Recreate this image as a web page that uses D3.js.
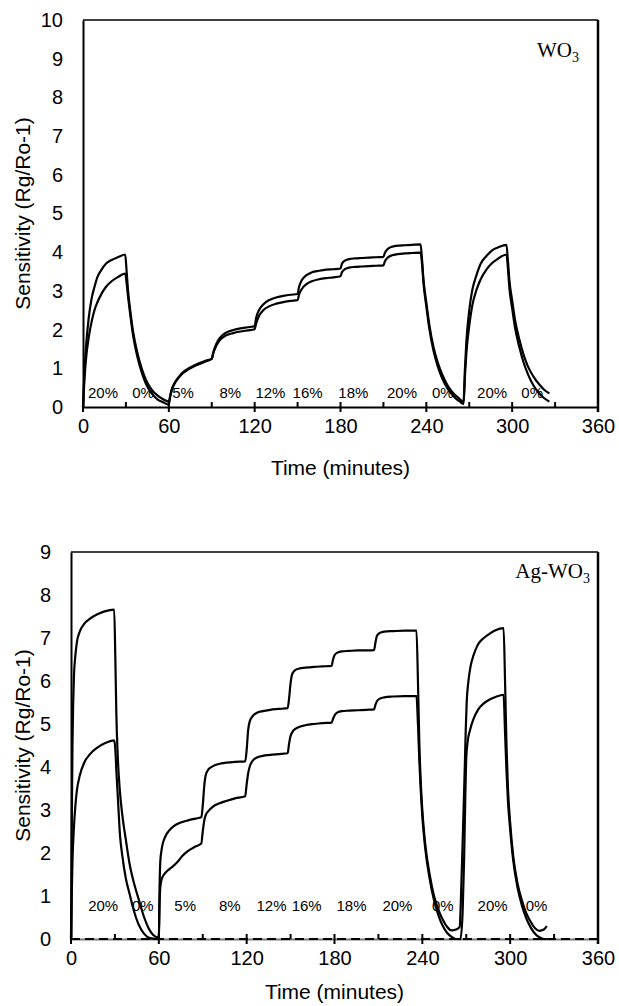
<!DOCTYPE html>
<html>
<head>
<meta charset="utf-8">
<script src="https://cdn.jsdelivr.net/npm/d3@7"></script>
<style>
  body { margin: 0; background: #fff; }
  svg { display: block; }
  text { font-family: Arial, "Liberation Sans", sans-serif; fill: #000; }
</style>
</head>
<body>
<svg id="chart" width="619" height="1006"></svg>
<script>
// ---------------- DATA ----------------
// Top panel: WO3
const wo3Time = [0,1,2,4,6,8,10,13,16,20,25,29.5,
  30.5,31.5,33,35,38,41,44,48,52,56,60,
  61,62,64,67,70,74,78,82,86,90,
  91,93,96,100,105,110,115,120,
  121,123,126,130,135,140,145,150,
  151,153,156,160,165,170,175,180,
  181,183,186,190,195,200,205,210,
  211,213,216,220,225,230,236,
  237,238,240,242,245,248,251,255,259,263,266,
  267,268,270,272,275,278,282,286,290,296,
  297,298,300,302,305,308,311,315,319,322,326];
const wo3Upper = [0,0.9,1.5,2.3,2.8,3.1,3.35,3.55,3.7,3.8,3.88,3.94,
  3.5,3.0,2.5,1.95,1.4,1.0,0.7,0.45,0.3,0.2,0.14,
  0.3,0.45,0.62,0.78,0.9,1.0,1.08,1.14,1.2,1.25,
  1.4,1.62,1.8,1.92,1.99,2.03,2.06,2.09,
  2.3,2.5,2.65,2.76,2.83,2.87,2.9,2.92,
  3.1,3.28,3.4,3.48,3.52,3.55,3.56,3.58,
  3.7,3.78,3.82,3.84,3.85,3.86,3.87,3.88,
  3.98,4.08,4.14,4.17,4.18,4.19,4.2,
  3.8,3.3,2.7,2.15,1.55,1.15,0.85,0.55,0.35,0.22,0.12,
  1.0,1.7,2.5,3.0,3.4,3.7,3.9,4.05,4.12,4.19,
  3.8,3.3,2.75,2.25,1.75,1.35,1.05,0.78,0.58,0.46,0.35];
const wo3Lower = [0,0.7,1.2,1.8,2.2,2.5,2.7,2.93,3.1,3.25,3.37,3.45,
  3.2,2.85,2.4,1.85,1.3,0.9,0.6,0.35,0.2,0.12,0.06,
  0.28,0.43,0.6,0.76,0.88,0.98,1.06,1.12,1.18,1.24,
  1.38,1.57,1.74,1.85,1.91,1.95,1.98,2.01,
  2.15,2.35,2.5,2.6,2.67,2.71,2.74,2.76,
  2.9,3.05,3.17,3.25,3.3,3.33,3.35,3.38,
  3.48,3.56,3.6,3.62,3.63,3.64,3.65,3.66,
  3.76,3.86,3.92,3.95,3.97,3.98,3.99,
  3.7,3.2,2.6,2.05,1.45,1.05,0.75,0.47,0.28,0.15,0.08,
  0.8,1.4,2.1,2.6,3.02,3.3,3.55,3.72,3.83,3.94,
  3.6,3.1,2.55,2.05,1.55,1.15,0.85,0.55,0.35,0.24,0.14];

// Bottom panel: Ag-WO3
const agUpperTime = [0,0.5,1,1.5,2,3,4,6,9,13,18,23,29.5,
  30.3,31,32,33.5,35,37.5,40,43,46,50,53,56,60,
  60.5,61,62,64,67,70,75,80,85,89,
  90,91,92,94,97,101,106,112,119,
  120,121,122,124,127,131,136,142,148,
  149,150,151,153,156,160,166,172,178,
  179,180,182,185,190,196,202,207,
  208,209,211,214,220,228,236,
  237,238,239,240,242,245,248,251,254,257,260,263,265.5,
  266.6,268,269,269.6,270.3,271.5,273,275,278,282,286,290,295.5,
  296.5,297.5,298.5,300,302,305,308,311,314,317,320,323,325];
const agUpperValue = [0,2.5,4.5,5.5,6.1,6.6,6.9,7.15,7.33,7.45,7.55,7.62,7.66,
  6.5,5.2,4.2,3.4,2.9,2.3,1.75,1.3,0.95,0.5,0.25,0.1,0.03,
  1.2,1.8,2.1,2.35,2.52,2.62,2.71,2.76,2.8,2.83,
  3.1,3.55,3.8,3.95,4.02,4.07,4.1,4.12,4.13,
  4.4,4.85,5.05,5.18,5.26,5.3,5.33,5.35,5.37,
  5.6,5.95,6.15,6.25,6.29,6.31,6.33,6.34,6.35,
  6.5,6.6,6.66,6.69,6.7,6.71,6.71,6.72,
  6.9,7.05,7.12,7.15,7.16,7.17,7.17,
  6.0,4.5,3.6,3.0,2.2,1.5,1.0,0.68,0.45,0.28,0.2,0.22,0.28,
  1.2,2.8,4.0,4.8,5.5,6.0,6.35,6.6,6.85,7.0,7.1,7.18,7.23,
  6.0,4.5,3.5,2.7,1.95,1.3,0.9,0.6,0.4,0.25,0.19,0.22,0.3];
const agLowerTime = [0,0.5,1,2,3,4,6,9,13,18,23,29.5,
  30.3,31,32,33.5,35,37.5,40,43,46,50,54,60,
  60.5,61,62,64,67,70,73,76,80,85,89,
  90,91,92,94,97,101,106,112,119,
  120,121,122,124,127,131,136,142,148,
  149,150,152,155,160,166,172,178,
  179,180,182,185,190,196,202,207,
  208,209,211,214,220,228,236,
  237,238,239,240,242,245,248,251,254,257,260,263,266,
  267.5,268.5,269.3,270,271,272.5,275,278,282,286,290,295.5,
  296.5,297.5,298.5,300,302,305,308,311,314,317,320,323,325];
const agLowerValue = [0,1.0,1.8,2.6,3.1,3.45,3.8,4.1,4.3,4.45,4.55,4.62,
  4.4,3.9,3.3,2.4,1.95,1.4,1.05,0.65,0.35,0.12,0.02,0.0,
  0.8,1.2,1.4,1.52,1.62,1.7,1.8,1.93,2.05,2.15,2.22,
  2.5,2.75,2.88,2.98,3.08,3.15,3.21,3.27,3.32,
  3.6,3.85,4.0,4.14,4.22,4.26,4.28,4.3,4.32,
  4.55,4.72,4.85,4.92,4.97,5.0,5.02,5.03,
  5.12,5.2,5.27,5.3,5.31,5.32,5.33,5.34,
  5.45,5.53,5.59,5.62,5.64,5.65,5.65,
  5.0,4.1,3.4,2.85,2.1,1.4,0.9,0.55,0.3,0.14,0.05,0.0,0.0,
  0.6,1.8,3.2,4.2,4.6,4.85,5.12,5.33,5.48,5.57,5.63,5.68,
  4.8,3.9,3.2,2.55,1.85,1.2,0.78,0.48,0.27,0.12,0.04,0.0,0.0];
const agBaselineTime = [0, 360];
const agBaselineValue = [0, 0];

// Axis ticks
const xTicks = [0, 60, 120, 180, 240, 300, 360];
const xMinorTicks = [30, 90, 150, 210, 270, 330];
const yTicksTop = [0,1,2,3,4,5,6,7,8,9,10];
const yTicksBottom = [0,1,2,3,4,5,6,7,8,9];

// Gas concentration annotations
const concLabels = ["20%","0%","5%","8%","12%","16%","18%","20%","0%","20%","0%"];
const concTimesTop = [14,42,70,103,131,157,189,223,251.5,286,314];
const concTimesBottom = [22,49,78,108.5,137,161,191.6,223,254,288,318];

// ---------------- DRAW ----------------
const svg = d3.select("#chart");

function zip(ts, vs) {
  const out = [];
  for (let i = 0; i < Math.min(ts.length, vs.length); i++) out.push([ts[i], vs[i]]);
  return out;
}

function panel(cfg) {
  const g = svg.append("g");
  const x = d3.scaleLinear().domain([0, 360]).range([cfg.left, cfg.right]);
  const y = d3.scaleLinear().domain([0, cfg.ymax]).range([cfg.bottom, cfg.top]);

  // frame top and right
  g.append("line").attr("x1", cfg.left).attr("x2", cfg.right).attr("y1", cfg.top).attr("y2", cfg.top)
    .attr("stroke", "#000").attr("stroke-width", 1.5);
  g.append("line").attr("x1", cfg.right).attr("x2", cfg.right).attr("y1", cfg.top).attr("y2", cfg.bottom + 5)
    .attr("stroke", "#000").attr("stroke-width", 2.5);

  // y axis
  const ya = g.append("g").attr("transform", `translate(${cfg.left},0)`)
    .call(d3.axisLeft(y).tickValues(cfg.yTicks).tickSize(0).tickPadding(20).tickFormat(d3.format("d")));
  ya.select(".domain").attr("stroke", "#000").attr("stroke-width", 2);
  ya.selectAll("text").style("font-size", "20px").style("font-family", "Arial, 'Liberation Sans'");

  // concentration labels (behind curves)
  g.selectAll(".conc").data(cfg.concTimes).enter().append("text")
    .attr("x", d => x(d)).attr("y", cfg.concY)
    .attr("text-anchor", "middle").style("font-size", "15px")
    .text((d, i) => concLabels[i]);

  // x axis
  const xa = g.append("g").attr("transform", `translate(0,${cfg.bottom})`)
    .call(d3.axisBottom(x).tickValues(xTicks).tickSize(0).tickPadding(cfg.xPad).tickFormat(d3.format("d")));
  xa.select(".domain").attr("stroke", cfg.axisColor).attr("stroke-width", 2);
  xa.selectAll("text").style("font-size", "20px").style("font-family", "Arial, 'Liberation Sans'");
  g.selectAll(".majt").data(xTicks).enter().append("line")
    .attr("x1", d => x(d)).attr("x2", d => x(d))
    .attr("y1", cfg.bottom - 5).attr("y2", cfg.bottom + 5)
    .attr("stroke", "#000").attr("stroke-width", 2);
  g.selectAll(".mint").data(xMinorTicks).enter().append("line")
    .attr("x1", d => x(d)).attr("x2", d => x(d))
    .attr("y1", cfg.bottom - 5).attr("y2", cfg.bottom)
    .attr("stroke", "#000").attr("stroke-width", 2);

  cfg.series.forEach(s => {
    g.append("path").datum(zip(s.t, s.v))
      .attr("d", d3.line().x(d => x(d[0])).y(d => y(d[1])).curve(s.dash ? d3.curveLinear : d3.curveMonotoneX))
      .attr("fill", "none").attr("stroke", "#000")
      .attr("stroke-width", s.width || 2.2)
      .attr("stroke-dasharray", s.dash || null)
      .attr("stroke-linejoin", "round");
  });

  // axis titles
  g.append("text").attr("x", (cfg.left + cfg.right) / 2).attr("y", cfg.xTitleY)
    .attr("text-anchor", "middle").style("font-size", "21px").text("Time (minutes)");
  g.append("text").attr("transform", `translate(30,${(cfg.top + cfg.bottom) / 2}) rotate(-90)`)
    .attr("text-anchor", "middle").style("font-size", "21px").text("Sensitivity (Rg/Ro-1)");

  // sample name
  const t = g.append("text").attr("x", cfg.nameX).attr("y", cfg.nameY).attr("text-anchor", "end")
    .style("font-family", "'Times New Roman', 'Liberation Serif', serif").style("font-size", "21px");
  t.append("tspan").text(cfg.name);
  t.append("tspan").attr("dy", 5).style("font-size", "14px").text("3");
}

panel({
  left: 83, right: 598, top: 20, bottom: 407, ymax: 10, yTicks: yTicksTop,
  xPad: 12, xTitleY: 475, concY: 398, concTimes: concTimesTop, axisColor: "#000",
  name: "WO", nameX: 579, nameY: 57,
  series: [
    { t: wo3Time, v: wo3Upper },
    { t: wo3Time, v: wo3Lower }
  ]
});

panel({
  left: 71, right: 598, top: 552, bottom: 939, ymax: 9, yTicks: yTicksBottom,
  xPad: 12, xTitleY: 999, concY: 911, concTimes: concTimesBottom, axisColor: "#777",
  name: "Ag-WO", nameX: 590, nameY: 578,
  series: [
    { t: agBaselineTime, v: agBaselineValue, dash: "9,5", width: 2 },
    { t: agUpperTime, v: agUpperValue },
    { t: agLowerTime, v: agLowerValue }
  ]
});
</script>
</body>
</html>
